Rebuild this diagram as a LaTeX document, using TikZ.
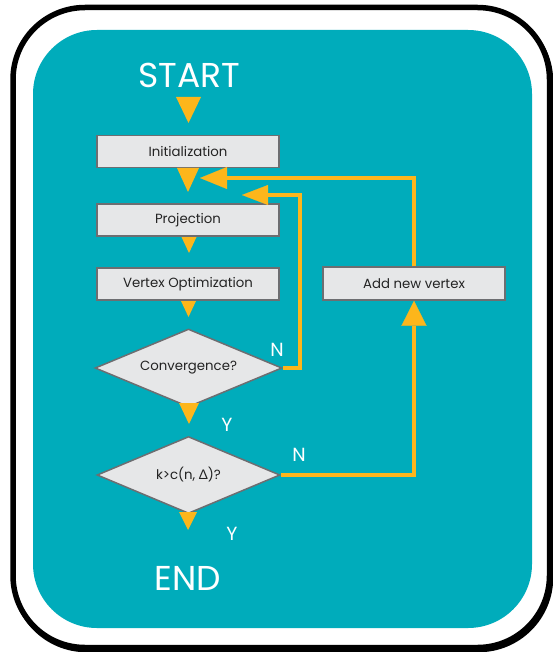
\documentclass[tikz,border=0pt]{standalone}
\usepackage{fontspec}
\setmainfont{Poppins}
\newfontfamily\greekf{Lato}
\usetikzlibrary{shapes.geometric,arrows.meta,calc}
\definecolor{tealbg}{HTML}{00ACBB}
\definecolor{arrc}{HTML}{FDB61B}
\definecolor{boxfill}{HTML}{E6E7E8}
\definecolor{boxline}{HTML}{6D6E71}
\definecolor{txtc}{HTML}{232323}
\tikzset{
  stepbox/.style={draw=boxline, line width=1.5pt, fill=boxfill, minimum width=182pt, minimum height=32pt, inner sep=0pt, font=\fontsize{13.3}{15}\selectfont, text=txtc},
  decision/.style={diamond, aspect=2.4, draw=boxline, line width=1.5pt, fill=boxfill, inner sep=0pt, font=\fontsize{13.3}{15}\selectfont, text=txtc},
  bigtext/.style={text=white, font=\fontsize{34.5}{38}\selectfont, inner sep=0pt},
  yn/.style={text=white, font=\fontsize{19}{21}\selectfont, inner sep=0pt},
  loopline/.style={draw=arrc, line width=4.5pt, line join=miter},
}
\newcommand\dtri[3]{\fill[arrc] ($#1+(-#2,0)$) -- ($#1+(#2,0)$) -- ($#1+(0,#3)$) -- cycle;}
\begin{document}
\begin{tikzpicture}[x=1pt,y=-1pt]
\useasboundingbox (0,0) rectangle (552,652);
% frame with slight shadow
\draw[black, line width=5.5pt, rounded corners=72pt] (14.5,9.5) rectangle (550.5,649.5);
\draw[black, line width=5.5pt, fill=white, rounded corners=72pt] (13,7.5) rectangle (549.5,647.5);
\fill[tealbg, rounded corners=64pt] (33,30) rectangle (532,628);
% nodes
\node[bigtext] (start) at (189,75) {START};
\node[bigtext] (end) at (188,578) {END};
\node[stepbox] (init) at (188,151.5) {Initialization};
\node[stepbox] (proj) at (188,220) {Projection};
\node[stepbox] (vopt) at (188,284) {Vertex Optimization};
\node[decision, minimum width=187pt, minimum height=78pt] (conv) at (188.5,368) {Convergence?};
\node[decision, minimum width=183pt, minimum height=77pt] (kc) at (188.5,475) {k>c(n, {\greekf Δ})?};
\node[stepbox, minimum height=33pt] (addv) at (414,283.5) {Add new vertex};
% labels
\node[yn] (n1) at (277,350) {N};
\node[yn] (n2) at (299,455) {N};
\node[yn] (y1) at (227,425) {Y};
\node[yn] (y2) at (232,534) {Y};
% down triangles
\dtri{(188.5,97)}{12.5}{26}
\dtri{(188,168)}{11}{24}
\dtri{(189,237)}{7.5}{16}
\dtri{(188.5,301)}{7.5}{16}
\dtri{(189,403)}{10}{21}
\dtri{(188,512)}{9}{18}
% loops
\draw[loopline, -{Triangle[length=27pt,width=22pt,line width=0.1pt]}] (addv.north) |- (200,178);
\draw[loopline, -{Triangle[length=26pt,width=20pt,line width=0.1pt]}] (conv.east) -| (300,195) -- (242,195);
\draw[loopline, -{Triangle[length=25pt,width=25pt,line width=0.1pt]}] (kc.east) -| (addv.south);
\end{tikzpicture}
\end{document}
